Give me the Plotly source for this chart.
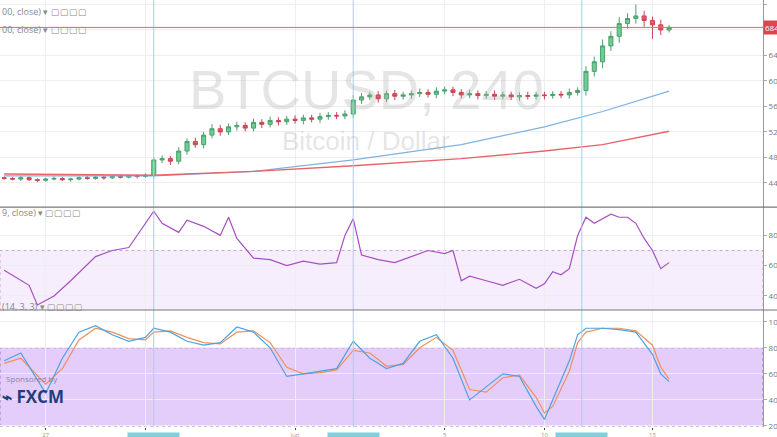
import plotly.graph_objects as go

closes = [447,446,448,445,444,446,447,445,446,448,447,449,448,450,449,451,450,452,
          476,478,474,490,505,500,515,525,520,528,530,526,535,532,538,536,540,538,542,540,544,546,545,548,
          570,575,578,572,580,576,578,580,582,579,584,586,582,578,580,577,579,576,578,575,577,576,578,577,579,578,582,585,
          615,630,655,670,690,698,702,695,688,680,684]
first_open = 448
wick_up = [2,2,3,2,2,2,3,2,2,2,3,2,2,2,3,2,2,3,
           4,5,4,6,5,6,5,7,6,5,6,5,6,5,6,5,5,6,5,5,6,5,5,6,
           8,6,5,6,5,6,5,5,6,5,6,5,5,5,6,5,5,6,5,5,5,6,5,5,5,5,6,5,
           8,8,10,8,10,8,18,8,6,8,4]
wick_dn = [2,2,3,2,3,2,2,2,3,2,2,2,3,2,2,2,3,2,
           5,5,6,5,6,5,6,5,6,5,6,5,5,6,5,6,5,5,6,5,6,5,5,5,
           6,6,5,6,5,6,5,6,5,5,6,5,6,5,5,6,5,6,5,5,6,5,5,6,5,5,6,5,
           8,8,10,8,10,8,8,10,22,8,4]

sma100_x = [0,18,30,42,55,65,72,80]
sma100 = [451,451,458,476,500,528,552,584]
sma200_x = [0,18,30,42,55,65,72,80]
sma200 = [454,452,458,467,478,490,500,521]

rsi_x = [0,3,4,6,8,11,13,15,18,19,21,22,24,26,27,28,30,32,34,36,38,40,41,42,43,45,47,49,51,53,54,55,56,58,60,62,64,65,66,67,68,69,70,71,73,74,75,76,77,78,79,80]
rsi = [57,47,34,40,50,66,70,72,96,88,82,90,86,80,92,78,65,64,60,63,61,62,80,91,67,64,62,66,70,68,70,50,53,50,47,51,45,48,56,54,58,80,92,88,94,92,92,88,78,70,58,62]

st_x = [0,2,5,7,9,11,13,15,17,18,20,22,24,26,28,30,32,34,36,38,40,42,44,46,48,50,52,54,56,58,60,62,64,65,66,68,69,70,72,74,76,78,79,80]
st_k = [70,76,45,72,92,97,90,85,88,95,92,85,82,84,96,92,80,58,60,62,64,85,72,64,68,85,90,72,40,50,60,58,35,25,40,70,90,95,95,94,92,75,60,54]
st_d = [68,72,52,64,86,95,92,87,86,92,93,88,84,83,92,93,84,65,60,61,63,78,76,66,67,80,88,78,48,46,57,59,42,30,35,62,84,92,95,95,93,82,65,56]

x_tick_pos = [5,17,35,53,65,78]
x_tick_txt = ['27','29','Jun','5','10','15']

n = len(closes)
opens = [first_open] + closes[:-1]
highs = [max(o, c) + w for o, c, w in zip(opens, closes, wick_up)]
lows = [min(o, c) - w for o, c, w in zip(opens, closes, wick_dn)]
idx = list(range(n))

fig = go.Figure()
fig.add_trace(go.Candlestick(x=idx, open=opens, high=highs, low=lows, close=closes,
    increasing=dict(line=dict(color='#4c9f6e', width=1), fillcolor='#6ccf8f'),
    decreasing=dict(line=dict(color='#c94452', width=1), fillcolor='#eb5d6a'),
    whiskerwidth=0, yaxis='y', xaxis='x'))
fig.add_trace(go.Scatter(x=sma100_x, y=sma100, mode='lines', line=dict(color='#7fb2e0', width=1.2), yaxis='y'))
fig.add_trace(go.Scatter(x=sma200_x, y=sma200, mode='lines', line=dict(color='#e8646a', width=1.4), yaxis='y'))
fig.add_trace(go.Scatter(x=rsi_x, y=rsi, mode='lines', line=dict(color='#a64fc0', width=1.2), yaxis='y2'))
fig.add_trace(go.Scatter(x=st_x, y=st_d, mode='lines', line=dict(color='#f0905a', width=1.2), yaxis='y3'))
fig.add_trace(go.Scatter(x=st_x, y=st_k, mode='lines', line=dict(color='#4aa3e0', width=1.2), yaxis='y3'))

shapes = []
for xv in [18, 42, 69.5]:
    shapes.append(dict(type='line', xref='x', yref='paper', x0=xv, x1=xv, y0=0, y1=1,
                       line=dict(color='#9fd3e6', width=1)))
shapes.append(dict(type='line', xref='paper', yref='y', x0=0, x1=1, y0=684, y1=684, line=dict(color='#e8646a', width=1)))
shapes.append(dict(type='rect', xref='paper', yref='y2', x0=0, x1=1, y0=30, y1=70,
                   fillcolor='rgba(200,140,240,0.15)', line=dict(color='#c9a0e0', width=1, dash='dot'), layer='below'))
shapes.append(dict(type='rect', xref='paper', yref='y3', x0=0, x1=1, y0=20, y1=80,
                   fillcolor='rgba(190,130,245,0.4)', line=dict(color='#a070c0', width=1, dash='dot'), layer='below'))
for yv in [0.274, 0.515]:
    shapes.append(dict(type='line', xref='paper', yref='paper', x0=0, x1=1.02, y0=yv, y1=yv, line=dict(color='#777', width=1.2)))

ann = [
    dict(text='BTCUSD, 240', x=0.48, y=0.87, xref='paper', yref='paper', showarrow=False,
         font=dict(size=56, color='rgba(180,180,180,0.35)', family='Liberation Sans')),
    dict(text='Bitcoin / Dollar', x=0.48, y=0.71, xref='paper', yref='paper', showarrow=False,
         font=dict(size=26, color='rgba(180,180,180,0.35)', family='Liberation Sans')),
    dict(text='00, close) ▾ ▢▢▢▢', x=0, y=0.993, xref='paper', yref='paper', xanchor='left', showarrow=False, font=dict(size=9, color='#888')),
    dict(text='00, close) ▾ ▢▢▢▢', x=0, y=0.95, xref='paper', yref='paper', xanchor='left', showarrow=False, font=dict(size=9, color='#888')),
    dict(text='9, close) ▾ ▢▢▢▢', x=0, y=0.503, xref='paper', yref='paper', xanchor='left', showarrow=False, font=dict(size=9, color='#888')),
    dict(text='(14, 3, 3) ▾ ▢▢▢▢', x=0, y=0.262, xref='paper', yref='paper', xanchor='left', showarrow=False, font=dict(size=9, color='#888')),
    dict(text='Sponsored by', x=0.005, y=0.095, xref='paper', yref='paper', xanchor='left', showarrow=False, font=dict(size=8, color='#7a8aa8')),
    dict(text='<b>⌁ FXCM</b>', x=0, y=0.04, xref='paper', yref='paper', xanchor='left', showarrow=False, font=dict(size=17, color='#1d3f7a')),
    dict(text='684', x=1.0, y=684, xref='paper', yref='y', xanchor='left', showarrow=False, bgcolor='#e0454f', font=dict(size=8, color='white')),
]
for xv in [18, 42, 69.5]:
    ann.append(dict(text='2016-05-27 00:00', x=xv, y=-0.012, xref='x', yref='paper', yanchor='top', showarrow=False,
                    bgcolor='#7fd0dc', font=dict(size=6, color='#7fd0dc')))

ax = dict(side='right', showgrid=True, gridcolor='#eeeeee', zeroline=False, ticks='outside', ticklen=3, automargin=False,
          tickcolor='#aaa', tickfont=dict(size=8, color='#777'), showline=True, linecolor='#999', anchor='x')
fig.update_layout(
    width=777, height=437, margin=dict(l=0, r=14, t=0, b=10, autoexpand=False),
    paper_bgcolor='white', plot_bgcolor='white', showlegend=False,
    shapes=shapes, annotations=ann,
    xaxis=dict(range=[-0.5, 91.3], anchor='y3', showgrid=True, gridcolor='#eeeeee', zeroline=False, rangeslider=dict(visible=False), automargin=False,
               tickvals=x_tick_pos, ticktext=x_tick_txt, tickfont=dict(size=6, color='#999'), ticks='outside', ticklen=2),
    yaxis=dict(domain=[0.515, 1], range=[402, 727], tickvals=[440,480,520,560,600,640,680,720], **ax),
    yaxis2=dict(domain=[0.274, 0.515], range=[30.7, 98.7], tickvals=[40,60,80], **ax),
    yaxis3=dict(domain=[0, 0.274], range=[19.2, 109], tickvals=[20,40,60,80,100], **ax),
)
fig.write_html('out.html', config={'displayModeBar': False},
               post_script="document.body.style.margin='0';document.body.style.overflow='hidden';")
